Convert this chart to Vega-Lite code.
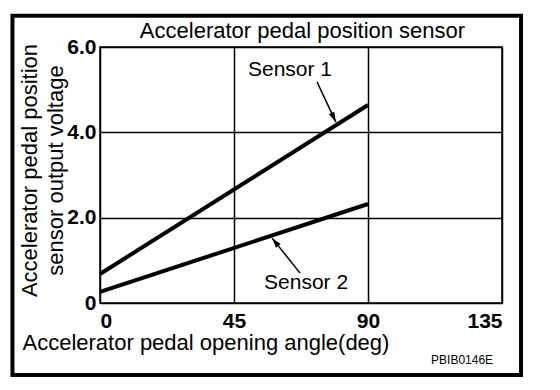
{
  "$schema": "https://vega.github.io/schema/vega-lite/v6.json",
  "width": 402,
  "height": 256,
  "autosize": {"type": "none"},
  "padding": {"left": 100, "top": 47, "right": 58, "bottom": 87},
  "background": "white",
  "config": {
    "font": "Liberation Sans",
    "view": {"stroke": "black", "strokeWidth": 1.5}
  },
  "datasets": {
    "lines": [
      {"sensor": "Sensor 1", "angle": 0, "voltage": 0.68},
      {"sensor": "Sensor 1", "angle": 90, "voltage": 4.64},
      {"sensor": "Sensor 2", "angle": 0, "voltage": 0.26},
      {"sensor": "Sensor 2", "angle": 90, "voltage": 2.32}
    ],
    "labels": [
      {"sensor": "Sensor 1", "angle": 63.8, "voltage": 5.47, "tailAngle": 72.9, "tailVoltage": 5.18, "tipAngle": 79.2, "tipVoltage": 4.24},
      {"sensor": "Sensor 2", "angle": 69.2, "voltage": 0.48, "tailAngle": 67.2, "tailVoltage": 0.70, "tipAngle": 57.8, "tipVoltage": 1.52}
    ]
  },
  "layer": [
    {
      "data": {"name": "lines"},
      "mark": {"type": "line", "color": "black", "strokeWidth": 4, "strokeCap": "butt"},
      "encoding": {
        "x": {
          "field": "angle",
          "type": "quantitative",
          "scale": {"domain": [0, 135], "nice": false, "zero": false},
          "axis": {
            "values": [0, 45, 90, 135],
            "title": "Accelerator pedal opening angle(deg)",
            "titleFontSize": 22,
            "titleFontWeight": "normal",
            "titleColor": "black",
            "titleX": -78,
            "titleY": 46,
            "titleAlign": "left",
            "titleBaseline": "alphabetic",
            "labelFontSize": 21,
            "labelFontWeight": "bold",
            "labelColor": "black",
            "labelFlush": true,
            "labelPadding": 7,
            "ticks": false,
            "domain": false,
            "grid": true,
            "gridColor": "black",
            "gridWidth": 1.5,
            "gridOpacity": 1
          }
        },
        "y": {
          "field": "voltage",
          "type": "quantitative",
          "scale": {"domain": [0, 6], "nice": false, "zero": false},
          "axis": {
            "values": [0, 2, 4, 6],
            "labelExpr": "datum.value == 0 ? '0' : format(datum.value, '.1f')",
            "title": ["Accelerator pedal position", "sensor output voltage"],
            "titleFontSize": 22,
            "titleFontWeight": "normal",
            "titleColor": "black",
            "titleX": -71,
            "titleY": 123,
            "titleAngle": -90,
            "titleAlign": "center",
            "titleBaseline": "middle",
            "titleLineHeight": 26,
            "labelFontSize": 21,
            "labelFontWeight": "bold",
            "labelColor": "black",
            "labelFlush": false,
            "labelBaseline": "middle",
            "labelPadding": 4,
            "ticks": false,
            "domain": false,
            "grid": true,
            "gridColor": "black",
            "gridWidth": 1.5,
            "gridOpacity": 1
          }
        },
        "detail": {"field": "sensor"}
      }
    },
    {
      "data": {"values": [{}]},
      "mark": {"type": "rect", "fill": null, "stroke": "black", "strokeWidth": 4, "clip": false},
      "encoding": {
        "x": {"datum": -29.4, "type": "quantitative"},
        "x2": {"datum": 141.4},
        "y": {"datum": 6.73, "type": "quantitative"},
        "y2": {"datum": -1.69}
      }
    },
    {
      "data": {"values": [{"title": "Accelerator pedal position sensor"}]},
      "mark": {"type": "text", "fontSize": 22, "align": "center", "baseline": "alphabetic", "color": "black"},
      "encoding": {
        "x": {"datum": 68, "type": "quantitative"},
        "y": {"datum": 6.22, "type": "quantitative"},
        "text": {"field": "title"}
      }
    },
    {
      "data": {"name": "labels"},
      "mark": {"type": "text", "fontSize": 21, "align": "center", "baseline": "middle", "color": "black"},
      "encoding": {
        "x": {"field": "angle", "type": "quantitative"},
        "y": {"field": "voltage", "type": "quantitative"},
        "text": {"field": "sensor"}
      }
    },
    {
      "data": {"name": "labels"},
      "mark": {"type": "rule", "color": "black", "strokeWidth": 1.5},
      "encoding": {
        "x": {"field": "tailAngle", "type": "quantitative"},
        "y": {"field": "tailVoltage", "type": "quantitative"},
        "x2": {"field": "tipAngle"},
        "y2": {"field": "tipVoltage"}
      }
    },
    {
      "data": {"name": "labels"},
      "transform": [{"filter": "datum.sensor == 'Sensor 1'"}],
      "mark": {"type": "point", "shape": "M0,0L-0.3,1L0.3,1Z", "filled": true, "color": "black", "opacity": 1, "size": 400, "angle": 154.6},
      "encoding": {
        "x": {"field": "tipAngle", "type": "quantitative"},
        "y": {"field": "tipVoltage", "type": "quantitative"}
      }
    },
    {
      "data": {"name": "labels"},
      "transform": [{"filter": "datum.sensor == 'Sensor 2'"}],
      "mark": {"type": "point", "shape": "M0,0L-0.3,1L0.3,1Z", "filled": true, "color": "black", "opacity": 1, "size": 400, "angle": 321.3},
      "encoding": {
        "x": {"field": "tipAngle", "type": "quantitative"},
        "y": {"field": "tipVoltage", "type": "quantitative"}
      }
    },
    {
      "data": {"values": [{"code": "PBIB0146E"}]},
      "mark": {"type": "text", "fontSize": 12, "align": "center", "baseline": "middle", "color": "black"},
      "encoding": {
        "x": {"datum": 121.6, "type": "quantitative"},
        "y": {"datum": -1.34, "type": "quantitative"},
        "text": {"field": "code"}
      }
    }
  ]
}
